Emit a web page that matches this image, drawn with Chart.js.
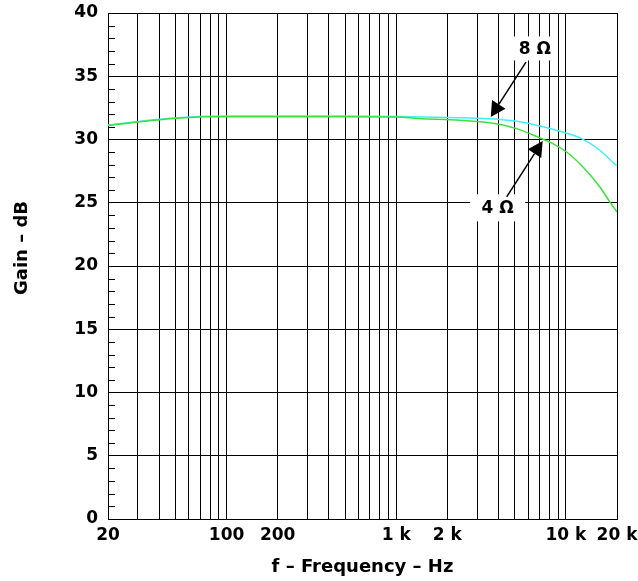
<!DOCTYPE html>
<html>
<head>
<meta charset="utf-8">
<script src="https://cdn.jsdelivr.net/npm/chart.js@4.4.1/dist/chart.umd.min.js"></script>
<style>
  html, body { margin: 0; padding: 0; background: #fff; }
  canvas { display: block; }
</style>
</head>
<body>
<canvas id="chart" width="638" height="581"></canvas>
<script>
// 8 ohm load (cyan)
const freq8 = [20, 31, 44.5, 61, 77, 100, 500, 1000, 2075, 3568, 5126, 7032, 9222, 12376, 15860, 19436, 20000];
const gain8 = [31.15, 31.45, 31.66, 31.78, 31.83, 31.85, 31.85, 31.82, 31.74, 31.65, 31.44, 31.07, 30.65, 30.07, 29.15, 28.05, 27.95];

// 4 ohm load (green)
const freq4 = [20, 31, 44.5, 61, 77, 100, 500, 1000, 1345, 2376, 3568, 5126, 7032, 8386, 10100, 12598, 15860, 18164, 20000];
const gain4 = [31.1, 31.4, 31.62, 31.74, 31.79, 31.8, 31.8, 31.78, 31.66, 31.52, 31.33, 30.86, 30.12, 29.68, 29.01, 27.83, 26.25, 25.06, 24.27];

const xGridValues = [20, 30, 40, 50, 60, 70, 80, 90, 100, 200, 300, 400, 500, 600, 700, 800, 900,
  1000, 2000, 3000, 4000, 5000, 6000, 7000, 8000, 9000, 10000, 20000];
const xLabelValues = [20, 100, 200, 1000, 2000, 10000, 20000];
const xLabelTexts = ["20", "100", "200", "1 k", "2 k", "10 k", "20 k"];

const yMin = 0;
const yMax = 40;
const yMajorStep = 5;

// callouts: label centre, arrow tail, arrow tip (freq, dB)
const callouts = [
  { text: "8 Ω", at: [6570, 37.2], w: 45, h: 24, from: [5814, 36.12], to: [3603, 31.78] },
  { text: "4 Ω", at: [3960, 24.6], w: 55, h: 27, from: [4475, 25.46], to: [7292, 29.88] },
];

const FONT = "'DejaVu Sans', sans-serif";
Chart.defaults.font.family = FONT;
Chart.defaults.color = "#000";

const toPoints = (xs, ys) => xs.map((x, i) => ({ x, y: ys[i] }));

const decor = {
  id: "decor",
  beforeDatasetsDraw(chart) {
    const { ctx, chartArea, scales } = chart;
    ctx.save();
    ctx.strokeStyle = "#000";
    ctx.lineWidth = 1;
    for (let v = yMin + 1; v < yMax; v++) {
      if (v % yMajorStep === 0) continue;
      const y = Math.round(scales.y.getPixelForValue(v)) + 0.5;
      ctx.beginPath();
      ctx.moveTo(chartArea.left, y);
      ctx.lineTo(chartArea.left + 7, y);
      ctx.stroke();
    }
    ctx.restore();
  },
  afterDatasetsDraw(chart) {
    const { ctx, scales } = chart;
    const px = (p) => [scales.x.getPixelForValue(p[0]), scales.y.getPixelForValue(p[1])];
    ctx.save();
    callouts.forEach((c) => {
      const [cx, cy] = px(c.at);
      ctx.fillStyle = "#fff";
      ctx.fillRect(cx - c.w / 2, cy - c.h / 2, c.w, c.h);
      ctx.fillStyle = "#000";
      ctx.font = "bold 17px " + FONT;
      ctx.textAlign = "center";
      ctx.textBaseline = "middle";
      ctx.fillText(c.text, cx, cy + 1);

      const [x0, y0] = px(c.from);
      const [x1, y1] = px(c.to);
      const ang = Math.atan2(y1 - y0, x1 - x0);
      const len = 15, half = 8;
      const bx = x1 - len * Math.cos(ang), by = y1 - len * Math.sin(ang);
      ctx.strokeStyle = "#000";
      ctx.lineWidth = 1.5;
      ctx.beginPath();
      ctx.moveTo(x0, y0);
      ctx.lineTo(bx, by);
      ctx.stroke();
      ctx.beginPath();
      ctx.moveTo(x1, y1);
      ctx.lineTo(bx + half * Math.sin(ang), by - half * Math.cos(ang));
      ctx.lineTo(bx - half * Math.sin(ang), by + half * Math.cos(ang));
      ctx.closePath();
      ctx.fill();
    });
    ctx.restore();
  },
  afterDraw(chart) {
    const { ctx } = chart;
    ctx.save();
    ctx.translate(22, 248);
    ctx.rotate(-Math.PI / 2);
    ctx.font = "bold 18px " + FONT;
    ctx.fillStyle = "#000";
    ctx.textAlign = "center";
    ctx.textBaseline = "middle";
    ctx.fillText("Gain – dB", 0, 0);
    ctx.restore();
  },
};

new Chart(document.getElementById("chart"), {
  type: "line",
  data: {
    datasets: [
      {
        label: "4 Ω",
        data: toPoints(freq4, gain4),
        borderColor: "#3ee03e",
        borderWidth: 1.5,
        pointRadius: 0,
        cubicInterpolationMode: "monotone",
      },
      {
        label: "8 Ω",
        data: toPoints(freq8, gain8),
        borderColor: "#3ff0f8",
        borderWidth: 1.5,
        pointRadius: 0,
        cubicInterpolationMode: "monotone",
      },
    ],
  },
  options: {
    responsive: false,
    animation: false,
    layout: { padding: { top: 13, right: 21, left: 0, bottom: 0 } },
    plugins: { legend: { display: false }, tooltip: { enabled: false } },
    scales: {
      x: {
        type: "logarithmic",
        min: 20,
        max: 20000,
        afterBuildTicks: (scale) => {
          scale.ticks = xGridValues.map((v) => ({ value: v }));
        },
        afterFit: (scale) => {
          scale.height = 62;
          scale.paddingLeft = 0;
          scale.paddingRight = 0;
        },
        grid: { color: "#000", lineWidth: 1, drawTicks: false },
        border: { color: "#000", width: 1 },
        ticks: {
          autoSkip: false,
          maxRotation: 0,
          padding: 6,
          font: { size: 17, weight: "bold" },
          callback: (value) => {
            const i = xLabelValues.indexOf(value);
            return i >= 0 ? xLabelTexts[i] : "";
          },
        },
        title: {
          display: true,
          text: "f – Frequency – Hz",
          font: { size: 18, weight: "bold" },
          padding: { top: 0, bottom: 3 },
        },
      },
      y: {
        min: yMin,
        max: yMax,
        afterFit: (scale) => {
          scale.width = 108;
          scale.paddingTop = 0;
          scale.paddingBottom = 0;
        },
        grid: {
          drawTicks: false,
          lineWidth: 1,
          color: (ctx) => (ctx.tick && ctx.tick.value % yMajorStep === 0 ? "#000" : "rgba(0,0,0,0)"),
        },
        border: { color: "#000", width: 1 },
        ticks: {
          stepSize: 1,
          autoSkip: false,
          padding: 10,
          font: { size: 17, weight: "bold" },
          callback: (value) => (value % yMajorStep === 0 ? String(value) : ""),
        },
      },
    },
  },
  plugins: [decor],
});
</script>
</body>
</html>
